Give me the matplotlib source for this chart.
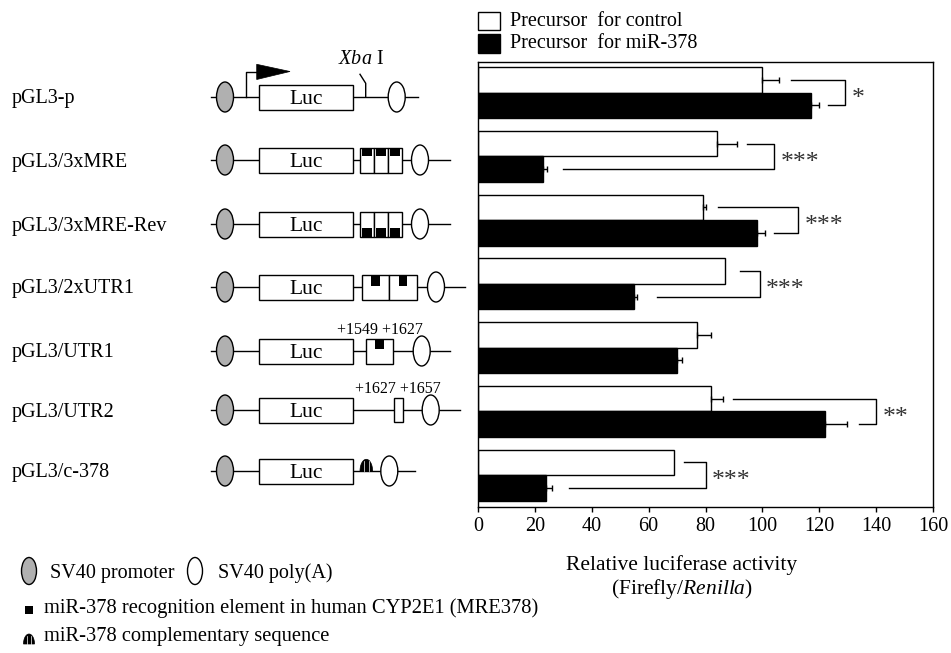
import matplotlib
matplotlib.use('Agg')
import matplotlib.pyplot as plt
import numpy as np
from matplotlib.patches import Ellipse, Rectangle, Polygon

plt.rcParams['font.family'] = ['Liberation Serif', 'DejaVu Serif']
plt.rcParams['mathtext.fontset'] = 'custom'
plt.rcParams['mathtext.rm'] = 'Liberation Serif'
plt.rcParams['mathtext.it'] = 'Liberation Serif:italic'

# ---------------- data ----------------
constructs = ["pGL3-p", "pGL3/3xMRE", "pGL3/3xMRE-Rev", "pGL3/2xUTR1",
              "pGL3/UTR1", "pGL3/UTR2", "pGL3/c-378"]
control = [100, 84, 79, 87, 77, 82, 69]
control_err = [6, 7, 1, 0, 5, 4, 0]
mir378 = [117, 23, 98, 55, 70, 122, 24]
mir378_err = [3, 1.3, 3, 1, 1.8, 7.7, 2]
significance = ["*", "***", "***", "***", "", "**", "***"]
bracket_x = [129, 104, 112.5, 99, None, 140, 80]
bracket_start_control = [110, 94.5, 84.5, 92, None, 89.5, 72.5]
bracket_start_mir = [123, 30, 104, 63, None, 134, 32]
xticks = [0, 20, 40, 60, 80, 100, 120, 140, 160]
legend_labels = ["Precursor  for control", "Precursor  for miR-378"]

W, H = 951, 653
fig = plt.figure(figsize=(W / 100, H / 100), dpi=100)

# ---------------- bar chart ----------------
ax = fig.add_axes([478 / W, 1 - 506.5 / H, (933 - 478) / W, (506.5 - 62) / H])
pos = np.arange(len(constructs))
ax.barh(pos - 0.2, control, height=0.4, color='white', edgecolor='black', lw=1.0, zorder=2)
ax.barh(pos + 0.2, mir378, height=0.4, color='black', edgecolor='black', lw=1.0, zorder=2)
for i in range(len(constructs)):
    if control_err[i] > 0:
        ax.errorbar(control[i], i - 0.2, xerr=[[0], [control_err[i]]], fmt='none',
                    ecolor='black', elinewidth=1.0, capsize=1.9, capthick=1.0, zorder=3)
    if mir378_err[i] > 0:
        ax.errorbar(mir378[i], i + 0.2, xerr=[[0], [mir378_err[i]]], fmt='none',
                    ecolor='black', elinewidth=1.0, capsize=1.9, capthick=1.0, zorder=3)
    if significance[i]:
        bx = bracket_x[i]
        ax.plot([bracket_start_control[i], bx, bx, bracket_start_mir[i]],
                [i - 0.2, i - 0.2, i + 0.2, i + 0.2], color='black', lw=1.0,
                zorder=3, clip_on=False)
        ax.text(bx + 2.3, i + 0.19, significance[i], fontsize=18.5, ha='left',
                va='baseline', color='#333333')

ax.set_xlim(0, 160)
ax.set_ylim(6.49, -0.48)
ax.set_yticks([])
ax.set_xticks(xticks)
ax.set_xticklabels([str(t) for t in xticks])
ax.tick_params(axis='x', direction='out', length=3.6, width=1.0, labelsize=14.5, pad=4)
for s in ax.spines.values():
    s.set_linewidth(1.0)

# ---------------- overlay in pixel coordinates ----------------
ov = fig.add_axes([0, 0, 1, 1])
ov.set_xlim(0, W)
ov.set_ylim(H, 0)
ov.axis('off')
ov.patch.set_alpha(0)

LW = 1.0
GRAY = '#b0b0b0'

# legend top
ov.add_patch(Rectangle((478.3, 11.7), 21.7, 18.3, fc='white', ec='black', lw=LW))
ov.add_patch(Rectangle((478.3, 34.3), 21.7, 18.3, fc='black', ec='black', lw=LW))
ov.text(510, 21, legend_labels[0], fontsize=14.5, va='center', ha='left')
ov.text(510, 43.5, legend_labels[1], fontsize=14.5, va='center', ha='left')

# axis title
ov.text(682, 570, "Relative luciferase activity", fontsize=15.5, ha='center', va='baseline')
ov.text(682, 594, r"(Firefly/$\mathit{Renilla}$)", fontsize=15.5, ha='center', va='baseline')

row_y = [97, 160, 224, 287, 351, 410, 471]

for i, name in enumerate(constructs):
    ov.text(11.7, row_y[i] + 6.5, name, fontsize=14.5, ha='left', va='baseline')


def base_row(yc, line_end, poly_x):
    ov.plot([210.7, line_end], [yc, yc], color='black', lw=LW, zorder=1)
    ov.add_patch(Ellipse((225, yc), 17, 30, fc=GRAY, ec='black', lw=LW, zorder=2))
    ov.add_patch(Rectangle((259.3, yc - 12.5), 93.4, 25, fc='white', ec='black', lw=LW, zorder=2))
    ov.text(306, yc + 7, "Luc", fontsize=15.5, ha='center', va='baseline', zorder=3)
    ov.add_patch(Ellipse((poly_x, yc), 17, 30, fc='white', ec='black', lw=LW, zorder=2))


def mre_boxes(yc, x0, n, w, top=True, sq_w=10, sq_h=8.5):
    for k in range(n):
        bx = x0 + k * w
        ov.add_patch(Rectangle((bx, yc - 12.5), w, 25, fc='white', ec='black', lw=LW, zorder=2))
        sy = yc - 12.5 if top else yc + 12.5 - sq_h
        ov.add_patch(Rectangle((bx + (w - sq_w) / 2, sy), sq_w, sq_h, fc='black', ec='none', zorder=3))


def dome(cx, base, a, b):
    t = np.linspace(0, np.pi, 30)
    pts = np.column_stack([cx + a * np.cos(t), base - b * np.sin(t)])
    ov.add_patch(Polygon(pts, closed=True, fc='black', ec='black', lw=0.5, zorder=3))
    for dx in (-a * 0.35, a * 0.35):
        ov.plot([cx + dx, cx + dx], [base - 0.5, base - b * 0.85], color='white', lw=0.5, zorder=4)


# row 0: pGL3-p
y0 = row_y[0]
base_row(y0, 418.3, 396.7)
ov.plot([246, 246, 256.7], [y0, 71.5, 71.5], color='black', lw=LW, zorder=1)
ov.add_patch(Polygon([(256.7, 64.3), (256.7, 79.5), (290, 71.5)], closed=True, fc='black', ec='black', lw=0.5))
ov.plot([365.7, 365.7, 360], [y0, 83.3, 74.3], color='black', lw=LW, zorder=1)
ov.text(338, 64.5, r"$\mathit{Xba}$ I", fontsize=14.5, ha='left', va='baseline')

# row 1: 3xMRE
base_row(row_y[1], 450, 420)
mre_boxes(row_y[1], 359.5, 3, 14.3, top=True)
# row 2: 3xMRE-Rev
base_row(row_y[2], 450, 420)
mre_boxes(row_y[2], 359.5, 3, 14.3, top=False)
# row 3: 2xUTR1
base_row(row_y[3], 465, 436)
mre_boxes(row_y[3], 361.7, 2, 27.5, top=True, sq_w=8.7, sq_h=11)
# row 4: UTR1
base_row(row_y[4], 450, 421.7)
mre_boxes(row_y[4], 365.7, 1, 27.6, top=True, sq_w=8.6, sq_h=10.7)
ov.text(380, row_y[4] - 17, "+1549 +1627", fontsize=11.5, ha='center', va='baseline')
# row 5: UTR2
base_row(row_y[5], 460, 430.7)
ov.add_patch(Rectangle((394, row_y[5] - 12.2), 9.3, 24.4, fc='white', ec='black', lw=LW, zorder=2))
ov.text(398, row_y[5] - 16.7, "+1627 +1657", fontsize=11.5, ha='center', va='baseline')
# row 6: c-378
base_row(row_y[6], 415, 389.3)
dome(366.3, row_y[6], 6.3, 11.7)

# legend bottom
ov.add_patch(Ellipse((29, 571), 15, 27, fc=GRAY, ec='black', lw=LW))
ov.text(49.5, 578, "SV40 promoter", fontsize=14.5, ha='left', va='baseline')
ov.add_patch(Ellipse((195, 571), 15, 27, fc='white', ec='black', lw=LW))
ov.text(218, 578, "SV40 poly(A)", fontsize=14.5, ha='left', va='baseline')
ov.add_patch(Rectangle((24.5, 605.5), 8.5, 8.5, fc='black', ec='none'))
ov.text(44, 613.5, "miR-378 recognition element in human CYP2E1 (MRE378)", fontsize=14.8,
        ha='left', va='baseline')
dome(29, 644, 5.5, 10)
ov.text(44, 641.5, "miR-378 complementary sequence", fontsize=14.8, ha='left', va='baseline')

fig.savefig('out.png', dpi=100)
